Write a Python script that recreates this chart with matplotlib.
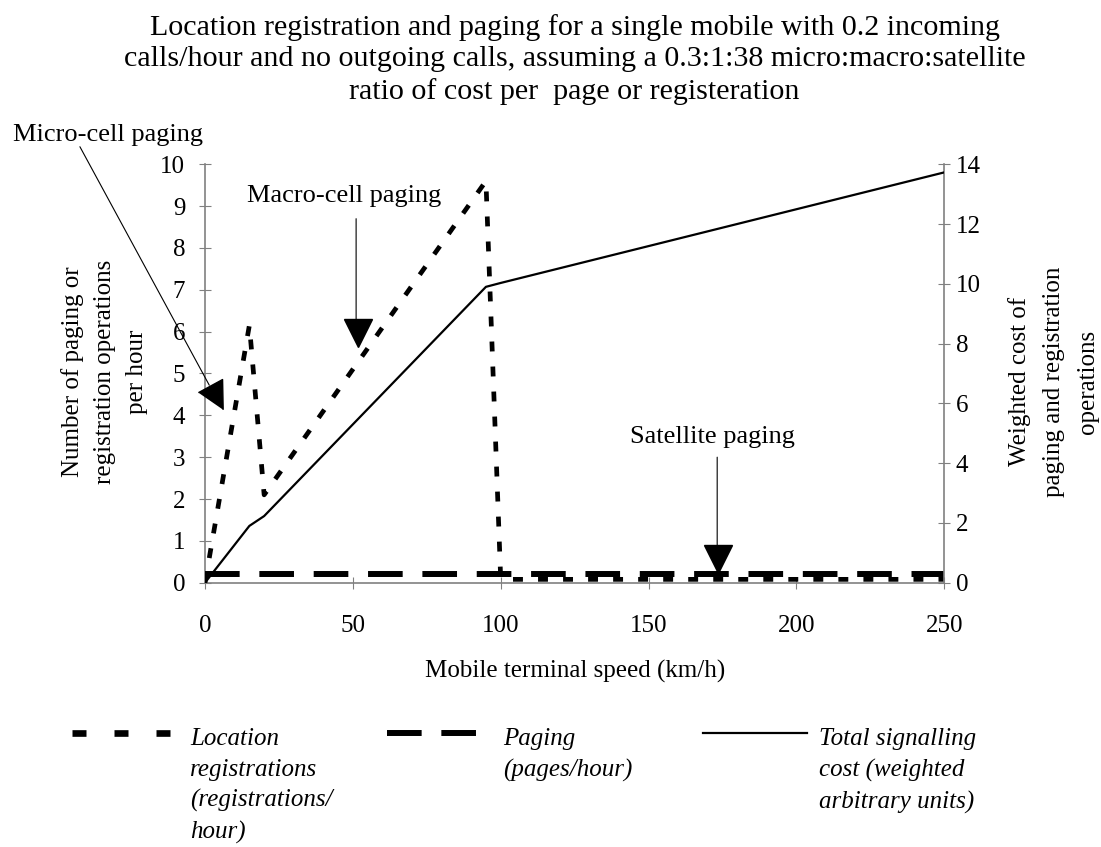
import matplotlib
matplotlib.use("Agg")
import matplotlib.pyplot as plt
from matplotlib.lines import Line2D

plt.rcParams["font.family"] = ["Liberation Serif", "DejaVu Serif"]
plt.rcParams["font.size"] = 18

# speed (km/h) vs. location registrations per hour (left axis)
REG_SPEED = [0, 15, 20, 95, 100, 250]
REGISTRATIONS = [0, 6.15, 2.1, 9.6, 0.08, 0.08]

# paging, pages per hour (left axis)
PAGE_SPEED = [0, 250]
PAGES = [0.2, 0.2]

# total weighted signalling cost (right axis)
COST_SPEED = [0, 15, 20, 95, 100, 250]
COST = [0, 1.9, 2.23, 9.9, 10.03, 13.73]

X_TICKS = [0, 50, 100, 150, 200, 250]
LEFT_TICKS = list(range(0, 11))
RIGHT_TICKS = list(range(0, 15, 2))

GREY = "#808080"
W, H = 1101, 847

fig = plt.figure(figsize=(W / 100, H / 100), dpi=100)
ax = fig.add_axes([205 / W, 1 - 582.7 / H, (944.3 - 205) / W, (582.7 - 164.3) / H])
ax2 = ax.twinx()

reg_style = dict(color="black", lw=3.4, dashes=(2.1, 3.2), dash_capstyle="butt")
page_style = dict(color="black", lw=4.3, dashes=(5.8, 3.3), dash_capstyle="butt")
cost_style = dict(color="black", lw=1.6)

ax.plot(PAGE_SPEED, PAGES, zorder=3, **page_style)
ax.plot(REG_SPEED, REGISTRATIONS, zorder=4, **reg_style)
ax2.plot(COST_SPEED, COST, zorder=3, **cost_style)

ax.set_xlim(0, 250)
ax.set_ylim(0, 10)
ax2.set_ylim(0, 14)
ax.set_xticks(X_TICKS)
ax.set_yticks(LEFT_TICKS)
ax2.set_yticks(RIGHT_TICKS)

for a in (ax, ax2):
    for s in a.spines.values():
        s.set_color(GREY)
        s.set_linewidth(1.2)
    a.spines["top"].set_visible(False)
ax.spines["right"].set_visible(False)
ax2.spines["left"].set_visible(False)
ax2.spines["bottom"].set_visible(False)

ax.tick_params(axis="y", direction="inout", length=8.5, color=GREY, pad=10)
ax.tick_params(axis="x", direction="inout", length=8, color=GREY, pad=19)
ax2.tick_params(axis="y", direction="inout", length=8.5, color=GREY, pad=4)

ax.set_xlabel("Mobile terminal speed (km/h)", labelpad=17)
ax.set_ylabel("Number of paging or\nregistration operations\nper hour", linespacing=1.6)
ax.yaxis.set_label_coords(-0.077, 0.505)
ax2.set_ylabel("Weighted cost of\npaging and registration\noperations", linespacing=1.7)
ax2.yaxis.set_label_coords(1.0865, 0.48)

ax.set_title("Location registration and paging for a single mobile with 0.2 incoming\n"
             "calls/hour and no outgoing calls, assuming a 0.3:1:38 micro:macro:satellite\n"
             "ratio of cost per  page or registeration", pad=47, linespacing=1.28)

# callouts
line_kw = dict(arrowstyle="-", lw=0.8, color="black", shrinkA=0, shrinkB=0)
ax.annotate("", xy=(1.45, 4.72), xytext=(-42.3, 10.42), arrowprops=line_kw, annotation_clip=False)
ax.text(-32.8, 10.71, "Micro-cell paging", ha="center", va="center", fontsize=19, clip_on=False)
ax.plot(1.7, 4.52, marker=[(-0.79, 0.12), (0.79, 0.98), (0.83, -1)], ms=22,
        color="black", clip_on=False, zorder=6)

ax.annotate("", xy=(51.1, 6.15), xytext=(51.1, 8.7), arrowprops=line_kw)
ax.text(47.0, 9.25, "Macro-cell paging", ha="center", va="center", fontsize=19)
ax.plot(51.9, 5.96, marker="v", ms=20, color="black", zorder=6)

ax.annotate("", xy=(173.2, 0.78), xytext=(173.2, 3.0), arrowprops=line_kw)
ax.text(171.7, 3.49, "Satellite paging", ha="center", va="center", fontsize=19)
ax.plot(173.6, 0.57, marker="v", ms=20, color="black", zorder=6)

# legend under the plot, drawn by hand
leg_y = 1 - 733 / H
fig.add_artist(Line2D([72 / W, 173 / W], [leg_y, leg_y], color="black", lw=4.8,
                      dashes=(2.1, 4.2), dash_capstyle="butt"))
fig.add_artist(Line2D([387 / W, 477 / W], [leg_y, leg_y], **page_style))
fig.add_artist(Line2D([703 / W, 807 / W], [leg_y, leg_y], **cost_style))
leg_top = 1 - 728 / H
leg_kw = dict(style="italic", va="top", linespacing=1.5)
fig.text(190 / W, leg_top, "Location\nregistrations\n(registrations/\nhour)", **leg_kw)
fig.text(503 / W, leg_top, "Paging\n(pages/hour)", **leg_kw)
fig.text(819 / W, leg_top, "Total signalling\ncost (weighted\narbitrary units)", **leg_kw)

fig.savefig("out.png", dpi=100)
